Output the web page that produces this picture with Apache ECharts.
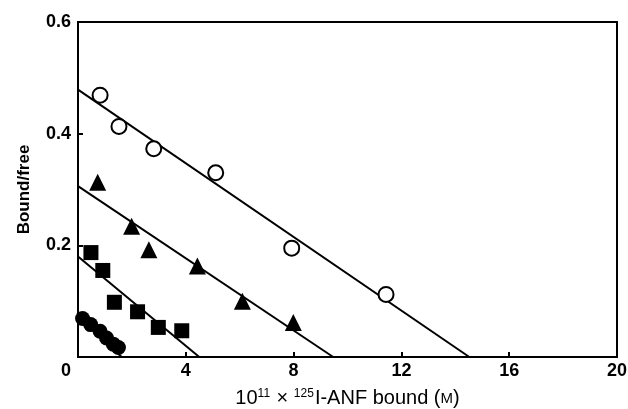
<!DOCTYPE html>
<html>
<head>
<meta charset="utf-8">
<script src="https://cdn.jsdelivr.net/npm/echarts@6/dist/echarts.min.js"></script>
<style>
  html, body { margin: 0; padding: 0; background: #fff; }
  #main { width: 628px; height: 409px; }
</style>
</head>
<body>
<div id="main"></div>
<script>
// x = 10^11 x bound (M), y = bound/free
const openCircles = [[0.82, 0.469], [1.52, 0.413], [2.81, 0.373], [5.11, 0.330], [7.93, 0.195], [11.43, 0.112]]
const triangles = [[0.73, 0.313], [1.99, 0.234], [2.63, 0.192], [4.43, 0.163], [6.10, 0.100], [7.99, 0.062]]
const squares = [[0.48, 0.187], [0.92, 0.155], [1.35, 0.098], [2.21, 0.081], [2.98, 0.053], [3.85, 0.047]]
const filledCircles = [[0.17, 0.069], [0.47, 0.058], [0.82, 0.046], [1.06, 0.034], [1.31, 0.023], [1.50, 0.017]]

// fitted lines: [y-intercept point, x-intercept point]
const lineOpen = [[0, 0.479], [14.52, 0]]
const lineTri = [[0, 0.306], [9.47, 0]]
const lineSq = [[0, 0.180], [4.50, 0]]
const lineFilled = [[0, 0.074], [1.62, 0]]

const xTicks = [0, 4, 8, 12, 16, 20]
const yTicks = [0.2, 0.4, 0.6]

const font = 'Liberation Sans, Arial, sans-serif'
const ink = '#000'

const chart = echarts.init(document.getElementById('main'))

const fitLine = (data) => ({
  type: 'line',
  data,
  symbol: 'none',
  z: 1,
  lineStyle: { color: ink, width: 2 },
  silent: true,
})

const markers = (data, symbol, size, fill) => ({
  type: 'scatter',
  data,
  symbol,
  symbolSize: size,
  z: 3,
  itemStyle: fill
    ? { color: ink, opacity: 1 }
    : { color: '#fff', borderColor: ink, borderWidth: 2, opacity: 1 },
})

chart.setOption({
  animation: false,
  backgroundColor: '#fff',
  grid: {
    left: 78,
    right: 11,
    top: 22,
    bottom: 52,
    containLabel: false,
    outerBoundsMode: 'none',
    show: true,
    borderColor: ink,
    borderWidth: 2,
  },
  xAxis: {
    type: 'value',
    min: 0,
    max: 20,
    interval: 4,
    name: '10{sup|11} × {sup|125}I-ANF bound ({sc|M})',
    nameLocation: 'middle',
    nameGap: 31,
    nameTextStyle: {
      fontFamily: font,
      fontSize: 20,
      lineHeight: 20,
      color: ink,
      rich: {
        sup: { fontFamily: font, fontSize: 12, color: ink, verticalAlign: 'top', lineHeight: 20, padding: [0, 1, 5, 0] },
        sc: { fontFamily: font, fontSize: 15, color: ink, lineHeight: 20, padding: [2, 0, 0, 0] },
      },
    },
    axisLine: { lineStyle: { color: ink, width: 2 } },
    axisTick: { inside: true, length: 5, lineStyle: { color: ink, width: 2 } },
    splitLine: { show: false },
    axisLabel: {
      fontFamily: font,
      fontSize: 18,
      fontWeight: 'bold',
      color: ink,
      margin: 5,
      formatter: (v) => (xTicks.includes(v) ? (v === 0 ? '{z|0}' : String(v)) : ''),
      rich: {
        z: { fontFamily: font, fontSize: 18, fontWeight: 'bold', color: ink, padding: [0, 24, 0, 0] },
      },
    },
  },
  yAxis: {
    type: 'value',
    min: 0,
    max: 0.6,
    interval: 0.2,
    name: 'Bound/free',
    nameLocation: 'middle',
    nameGap: 45,
    nameTextStyle: { fontFamily: font, fontSize: 17, fontWeight: 'bold', color: ink },
    axisLine: { lineStyle: { color: ink, width: 2 } },
    axisTick: { inside: true, length: 5, lineStyle: { color: ink, width: 2 } },
    splitLine: { show: false },
    axisLabel: {
      fontFamily: font,
      fontSize: 18,
      fontWeight: 'bold',
      color: ink,
      margin: 7,
      formatter: (v) => {
        const t = yTicks.find((y) => Math.abs(y - v) < 1e-6)
        return t ? t.toFixed(1) : ''
      },
    },
  },
  series: [
    fitLine(lineOpen),
    fitLine(lineTri),
    fitLine(lineSq),
    fitLine(lineFilled),
    markers(openCircles, 'circle', 15, false),
    markers(triangles, 'triangle', 17, true),
    markers(squares, 'rect', 15, true),
    markers(filledCircles, 'circle', 15, true),
  ],
})
</script>
</body>
</html>
